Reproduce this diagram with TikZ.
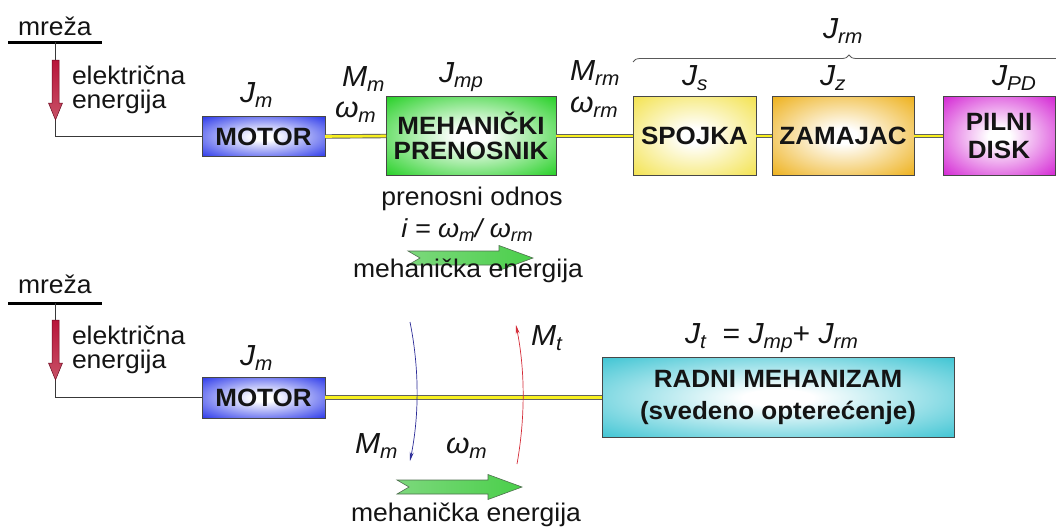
\documentclass[tikz,border=0pt]{standalone}
\usepackage{fontspec}
\setmainfont{Liberation Sans}[FakeStretch=1.04]
\usetikzlibrary{decorations.pathreplacing,arrows.meta}
\definecolor{ink}{HTML}{141414}
\definecolor{motorblue}{HTML}{1A28E8}
\definecolor{gearGreen}{HTML}{14CC14}
\definecolor{clutchY}{HTML}{F2E040}
\definecolor{flyO}{HTML}{ECAA08}
\definecolor{sawM}{HTML}{D014D0}
\definecolor{loadC}{HTML}{30C0D0}
\definecolor{shaftY}{HTML}{F8F020}
\definecolor{boxc}{HTML}{22CC22}
\definecolor{redTop}{HTML}{B8153A}
\definecolor{redBot}{HTML}{C85066}
\definecolor{redEdge}{HTML}{6A0A20}
\definecolor{gLeft}{HTML}{7CD87C}
\definecolor{gMid}{HTML}{F4FCF4}
\definecolor{gRight}{HTML}{4ACF4A}
\definecolor{gEdge}{HTML}{4F6F4F}
\definecolor{arcBlue}{HTML}{2A2A96}
\definecolor{arcRed}{HTML}{D42A36}
\pgfdeclareradialshading[boxc]{boxshade}{\pgfpoint{0bp}{0bp}}{color(0bp)=(white); color(5bp)=(white); color(38bp)=(boxc); color(80bp)=(boxc)}
\newcommand{\symlab}[2]{{\fontsize{29}{30}\selectfont\itshape #1\raisebox{-5pt}{\fontsize{20}{20}\selectfont #2}}}
\newcommand{\symsm}[2]{{\itshape #1\raisebox{-4pt}{\fontsize{18}{18}\selectfont #2}}}
\begin{document}
\begin{tikzpicture}[x=1pt,y=-1pt,
  every node/.style={inner sep=0pt, outer sep=0pt, text=ink},
  txt/.style={font=\fontsize{25.5}{26}\selectfont, anchor=base west},
  ctxt/.style={font=\fontsize{25.5}{26}\selectfont, anchor=base},
  lab/.style={anchor=base west},
  box/.style={draw=black!72, line width=0.8pt, shading=boxshade,
    /utils/exec={\colorlet{boxc}{#1}}, align=center,
    font=\fontsize{25}{25}\selectfont\bfseries},
  shaft/.style={draw=black!62, line width=0.9pt, double=shaftY, double distance=2.6pt},
  wire/.style={draw=black!78, line width=0.8pt},
  bar/.style={draw=black, line width=3pt},
  redarrow/.style={top color=redTop, bottom color=redBot, draw=redEdge, line width=0.5pt},
  grarrow/.style={left color=gLeft, middle color=gMid, right color=gRight, draw=gEdge, line width=0.6pt},
  arc/.style={line width=0.7pt, -{Stealth[length=9pt,width=4pt]}}
]
\useasboundingbox (0,0) rectangle (1056,528);
\clip (0,0) rectangle (1056,528);

% ---------------- top row ----------------
\node[txt] (mreza1) at (18,35) {mreža};
\coordinate (barL1) at (8,42);
\coordinate (barR1) at (102,42);
\draw[bar] (barL1) -- (barR1);
\coordinate (tap1) at (55.5,42);

\node[box=motorblue, minimum width=123pt, minimum height=40pt] (motor1) at (263.5,136.5) {MOTOR};
\node[box=gearGreen, minimum width=170pt, minimum height=79pt, font=\fontsize{25}{25}\selectfont\bfseries] (meh) at (471,136) {MEHANIČKI\\PRENOSNIK};
\node[box=clutchY, minimum width=123pt, minimum height=79pt] (spojka) at (694.5,136) {SPOJKA};
\node[box=flyO, minimum width=142pt, minimum height=79pt] (zamajac) at (843,136) {ZAMAJAC};
\node[box=sawM, minimum width=112pt, minimum height=79pt, font=\fontsize{25}{28}\selectfont\bfseries] (pilni) at (999,136) {PILNI\\DISK};

\draw[wire] (tap1) |- (motor1.west);
\shade[redarrow] (52,60) -- (59,60) -- (59,103) -- (62.5,103) -- (55.5,120) -- (48.5,103) -- (52,103) -- cycle;

\draw[shaft] (motor1.east) -- (meh.west);
\draw[shaft] (meh.east) -- (spojka.west);
\draw[shaft] (spojka.east) -- (zamajac.west);
\draw[shaft] (zamajac.east) -- (pilni.west);

\node[txt] (el1) at (72,84) {električna};
\node[txt] (en1) at (72,108.5) {energija};

\node[lab] (Jm1) at (240,102) {\symlab{J}{m}};
\node[lab] (Mm1) at (342,86) {\symlab{M}{m}};
\node[lab] (wm1) at (335,117) {\symlab{ω}{m}};
\node[lab] (Jmp) at (439,82) {\symlab{J}{mp}};
\node[lab] (Mrm) at (570,80) {\symlab{M}{rm}};
\node[lab] (wrm) at (570,112) {\symlab{ω}{rm}};
\node[lab] (Js) at (682,85) {\symlab{J}{s}};
\node[lab] (Jz) at (820,85) {\symlab{J}{z}};
\node[lab] (Jpd) at (992,85) {\symlab{J}{PD}};
\node[lab] (Jrm) at (823,38) {\symlab{J}{rm}};

\coordinate (brL) at (633,62);
\coordinate (brR) at (1065,62);
\draw[draw=black!65, line width=0.8pt, decorate, decoration={brace, amplitude=7pt}] (brL) -- (brR);

\node[ctxt] (odnos) at (472,205) {prenosni odnos};
\node[anchor=base, font=\fontsize{26}{26}\selectfont] (ratio) at (467,237) {\symsm{i = ω}{m}\itshape/ \symsm{ω}{rm}};
\shade[grarrow, shift={(408,258)}] (0,-7) -- (91,-7) -- (91,-12.5) -- (125,0) -- (91,12.5) -- (91,7) -- (0,7) -- (12,0) -- cycle;
\node[ctxt] (meh1) at (468,277) {mehanička energija};

% ---------------- bottom row ----------------
\node[txt] (mreza2) at (18,293) {mreža};
\coordinate (barL2) at (8,303);
\coordinate (barR2) at (102,303);
\draw[bar] (barL2) -- (barR2);
\coordinate (tap2) at (55.5,303);

\node[box=motorblue, minimum width=123pt, minimum height=41pt] (motor2) at (263.5,397.5) {MOTOR};
\node[box=loadC, minimum width=352pt, minimum height=80pt, font=\fontsize{25}{32}\selectfont\bfseries] (radni) at (778,397.5) {RADNI MEHANIZAM\\(svedeno opterećenje)};

\draw[wire] (tap2) |- (motor2.west);
\shade[redarrow] (52,320) -- (59,320) -- (59,363) -- (62.5,363) -- (55.5,380) -- (48.5,363) -- (52,363) -- cycle;

\draw[shaft] (motor2.east) -- (radni.west);

\node[txt] (el2) at (72,344) {električna};
\node[txt] (en2) at (72,368.5) {energija};
\node[lab] (Jm2) at (240,365) {\symlab{J}{m}};
\node[lab] (Jt) at (685,343) {\symlab{J}{t}\fontsize{29}{30}\selectfont\ \ = \symlab{J}{mp}+ \symlab{J}{rm}};

\coordinate (bA) at (410,322);
\coordinate (bB) at (410,461);
\draw[arc, arcBlue] (bA) .. controls (419.3,368) and (419.3,415) .. (bB);
\coordinate (rA) at (517,464);
\coordinate (rB) at (516,325);
\draw[arc, arcRed] (rA) .. controls (525.2,418) and (525.2,371) .. (rB);

\node[lab] (Mt) at (531,345) {\symlab{M}{t}};
\node[lab] (Mm2) at (355,453) {\symlab{M}{m}};
\node[lab] (wm2) at (446,453) {\symlab{ω}{m}};

\shade[grarrow, shift={(397,487)}] (0,-7) -- (91,-7) -- (91,-12.5) -- (125,0) -- (91,12.5) -- (91,7) -- (0,7) -- (12,0) -- cycle;
\node[ctxt] (meh2) at (466,521) {mehanička energija};
\end{tikzpicture}
\end{document}
